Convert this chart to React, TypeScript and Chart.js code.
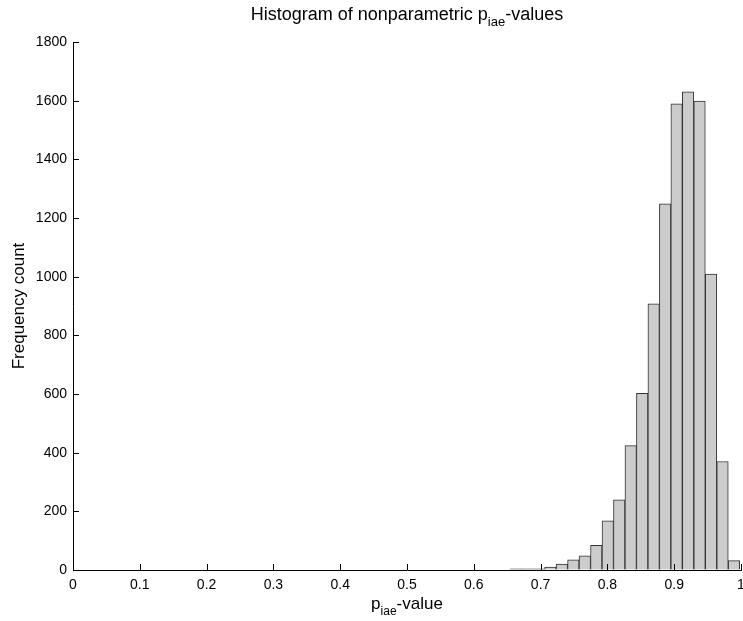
import React, { useEffect, useRef } from 'react';
import { Chart, registerables } from 'chart.js';

Chart.register(...registerables);

// Histogram definition (bin lower edge and width) and counts per bin
const binStart = 0.6545;
const binWidth = 0.01718;
const counts = [4, 4, 4, 10, 20, 35, 48, 84, 168, 239, 424, 602, 907, 1248, 1589, 1630, 1599, 1009, 370, 32];

const xTicks = [0, 0.1, 0.2, 0.3, 0.4, 0.5, 0.6, 0.7, 0.8, 0.9, 1];
const yTicks = [0, 200, 400, 600, 800, 1000, 1200, 1400, 1600, 1800];

const titleMain = 'Histogram of nonparametric p';
const titleSub = 'iae';
const titleEnd = '-values';
const xLabelMain = 'p';
const xLabelSub = 'iae';
const xLabelEnd = '-value';
const yLabel = 'Frequency count';

const FONT = '"Liberation Sans", Arial, Helvetica, sans-serif';

function drawSubText(ctx: CanvasRenderingContext2D, cx: number, baseY: number, main: string, sub: string, end: string, size: number, subSize: number, subDrop: number) {
  ctx.font = `${size}px ${FONT}`;
  const w1 = ctx.measureText(main).width;
  const w3 = ctx.measureText(end).width;
  ctx.font = `${subSize}px ${FONT}`;
  const w2 = ctx.measureText(sub).width;
  const total = w1 + w2 + w3;
  let x = cx - total / 2;
  ctx.textAlign = 'left';
  ctx.textBaseline = 'alphabetic';
  ctx.fillStyle = '#000';
  ctx.font = `${size}px ${FONT}`;
  ctx.fillText(main, x, baseY);
  x += w1;
  ctx.font = `${subSize}px ${FONT}`;
  ctx.fillText(sub, x, baseY + subDrop);
  x += w2;
  ctx.font = `${size}px ${FONT}`;
  ctx.fillText(end, x, baseY);
}

const decorPlugin = {
  id: 'decor',
  afterDatasetsDraw(chart: any) {
    const { ctx, chartArea, scales } = chart;
    const x = scales.x;
    const y = scales.y;
    ctx.save();
    ctx.strokeStyle = '#000';
    ctx.lineWidth = 1;
    ctx.beginPath();
    xTicks.forEach((v) => {
      const px = Math.round(x.getPixelForValue(v)) + 0.5;
      ctx.moveTo(px, chartArea.bottom);
      ctx.lineTo(px, chartArea.bottom - 6);
    });
    yTicks.forEach((v) => {
      const py = Math.round(y.getPixelForValue(v)) + 0.5;
      ctx.moveTo(chartArea.left, py);
      ctx.lineTo(chartArea.left + 6, py);
    });
    ctx.stroke();

    const cx = (chartArea.left + chartArea.right) / 2;
    drawSubText(ctx, cx, 20, titleMain, titleSub, titleEnd, 18, 13, 6);
    drawSubText(ctx, cx, 609, xLabelMain, xLabelSub, xLabelEnd, 17, 12, 6);

    ctx.translate(19, (chartArea.top + chartArea.bottom) / 2);
    ctx.rotate(-Math.PI / 2);
    ctx.font = `17px ${FONT}`;
    ctx.textAlign = 'center';
    ctx.textBaseline = 'middle';
    ctx.fillStyle = '#000';
    ctx.fillText(yLabel, 0, 0);
    ctx.restore();
  },
};

export default function App() {
  const ref = useRef<HTMLCanvasElement>(null);
  useEffect(() => {
    if (!ref.current) return;
    Chart.defaults.font.family = FONT;
    const data = counts.map((c, i) => ({ x: binStart + binWidth * (i + 0.5), y: c }));
    const chart = new Chart(ref.current, {
      type: 'bar',
      data: {
        datasets: [
          {
            data: data as any,
            backgroundColor: '#cccccc',
            borderColor: '#333333',
            borderWidth: 1,
            barPercentage: 1,
            categoryPercentage: 1,
          },
        ],
      },
      options: {
        responsive: false,
        animation: false,
        devicePixelRatio: 1,
        layout: { padding: { top: 42, right: 19, left: 0, bottom: 0 } },
        plugins: { legend: { display: false }, tooltip: { enabled: false }, title: { display: false } },
        scales: {
          x: {
            type: 'linear',
            min: 0,
            max: 1,
            offset: false,
            afterBuildTicks: (s: any) => {
              s.ticks = xTicks.map((v) => ({ value: v }));
            },
            afterFit: (s: any) => {
              s.height = 51;
            },
            ticks: {
              color: '#000',
              font: { size: 14 },
              padding: 7,
              maxRotation: 0,
              autoSkip: false,
              callback: (v: any) => String(Number(Number(v).toFixed(1))),
            },
            grid: { display: true, drawOnChartArea: false, drawTicks: false },
            border: { display: true, color: '#000', width: 1 },
          },
          y: {
            type: 'linear',
            min: 0,
            max: 1800,
            afterBuildTicks: (s: any) => {
              s.ticks = yTicks.map((v) => ({ value: v }));
            },
            afterFit: (s: any) => {
              s.width = 73;
            },
            ticks: {
              color: '#000',
              font: { size: 14 },
              padding: 6,
              autoSkip: false,
              callback: (v: any) => String(v),
            },
            grid: { display: true, drawOnChartArea: false, drawTicks: false },
            border: { display: true, color: '#000', width: 1 },
          },
        },
      },
      plugins: [decorPlugin],
    });
    return () => chart.destroy();
  }, []);
  return (
    <div style={{ position: 'fixed', left: 0, top: 0, width: 743, height: 621, overflow: 'hidden', background: '#fff' }}>
      <canvas ref={ref} width={760} height={621} style={{ display: 'block' }} />
    </div>
  );
}
